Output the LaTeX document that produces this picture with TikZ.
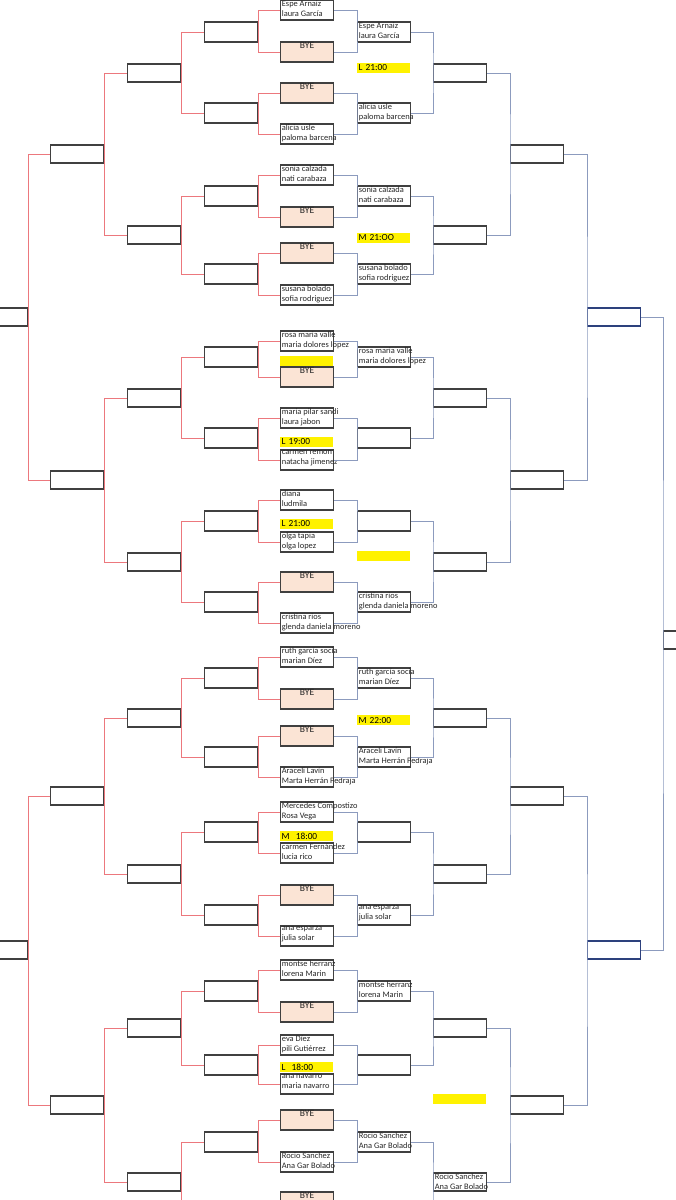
\documentclass[tikz,border=0pt]{standalone}
\usepackage{fontspec}
\setmainfont{Carlito}
\definecolor{byefill}{RGB}{251,228,213}
\definecolor{lred}{RGB}{236,120,125}
\definecolor{rblue}{RGB}{140,155,190}
\definecolor{dblue}{RGB}{45,65,125}
\tikzset{
 box/.style={draw=black!75, line width=0.95pt, rectangle, inner sep=0pt, minimum width=39.75pt, anchor=west, minimum height=15pt},
 sbox/.style={box, minimum height=13.5pt},
 txt/.style={font=\fontsize{6.3}{7.6}\selectfont, align=left, inner xsep=1.2pt, inner ysep=0.6pt, anchor=north west, text=black!85},
 byetxt/.style={font=\fontsize{7.2}{7.5}\selectfont, inner sep=0.8pt, anchor=north, text=black!85},
 ylw/.style={fill=yellow, inner sep=0pt, minimum height=7.5pt, text width=39.75pt, align=left, anchor=west, font=\fontsize{7}{7}\selectfont},
 lc/.style={draw=lred, line width=0.6pt},
 rc/.style={draw=rblue, line width=0.6pt}
}
\newcommand\leaf[3]{\node[box] (#1) at (280,#2) {}; \node[txt] (#1t) at (#1.north west) {#3};}
\newcommand\byeleaf[2]{\node[box,fill=byefill] (#1) at (280,#2) {}; \node[byetxt] (#1t) at (#1.north) {BYE};}
\newcommand\ftext[2]{\node[txt] (#1t) at (#1.north west) {#2};}
\newcommand\ybar[4]{\node[ylw] (#1) at (#2,#3) {\hspace{1pt}#4};}
\begin{document}
\begin{tikzpicture}[x=0.75pt,y=-0.75pt]
\useasboundingbox (0,0) rectangle (675,1200);
% D and F columns
\foreach \n/\y in {1/32,2/113,3/196,4/274,5/357,6/438,7/521,8/602,9/678,10/757,11/832,12/915,13/991,14/1065,15/1142,16/1222}{
 \node[box] (D\n) at (204,\y) {};
 \node[box] (F\n) at (357,\y) {};
}
\foreach \n/\y in {1/73,2/235,3/398,4/562,5/718,6/874,7/1028,8/1182}{
 \node[sbox] (C\n) at (127,\y) {};
 \node[sbox] (G\n) at (433,\y) {};
}
\foreach \n/\y in {1/154,2/480,3/796,4/1105}{
 \node[sbox] (B\n) at (50,\y) {};
 \node[sbox] (H\n) at (510,\y) {};
}
\foreach \n/\y in {1/317,2/950}{
 \node[sbox] (A\n) at (-26,\y) {};
 \node[sbox,draw=dblue] (I\n) at (587,\y) {};
}
\node[sbox] (J) at (663,640) {};
% leaves
\leaf{E1a}{10}{Espe Arnaiz\\laura García}
\byeleaf{E1b}{52}
\byeleaf{E2a}{93}
\leaf{E2b}{134}{alicia usle\\paloma barcena}
\leaf{E3a}{175}{sonia calzada\\nati carabaza}
\byeleaf{E3b}{217}
\byeleaf{E4a}{253}
\leaf{E4b}{295}{susana bolado\\sofia rodriguez}
\leaf{E5a}{341}{rosa maria valle\\maria dolores lopez}
\byeleaf{E5b}{377}
\leaf{E6a}{418}{maria pilar sandi\\laura jabon}
\leaf{E6b}{460}{carmen remon\\natacha jimenez}
\leaf{E7a}{500}{diana\\ludmila}
\leaf{E7b}{542}{olga tapia\\olga lopez}
\byeleaf{E8a}{582}
\leaf{E8b}{623}{cristina rios\\glenda daniela moreno}
\leaf{E9a}{657}{ruth garcía socia\\marian Díez}
\byeleaf{E9b}{699}
\byeleaf{E10a}{736}
\leaf{E10b}{777}{Araceli Lavín\\Marta Herrán Pedraja}
\leaf{E11a}{812}{Mercedes Compostizo\\Rosa Vega}
\leaf{E11b}{853}{carmen Fernández\\lucia rico}
\byeleaf{E12a}{895}
\leaf{E12b}{936}{ana esparza\\julia solar}
\leaf{E13a}{970}{montse herranz\\lorena Marin}
\byeleaf{E13b}{1012}
\leaf{E14a}{1045}{eva Díez\\pili Gutiérrez}
\leaf{E14b}{1084}{ana navarro\\maria navarro}
\byeleaf{E15a}{1120}
\leaf{E15b}{1162}{Rocio Sanchez\\Ana Gar Bolado}
\byeleaf{E16a}{1202}
\leaf{E16b}{1243}{}
% yellow labels
\ybar{y1}{280}{361}{}
\ybar{y2}{280}{442}{L 19:00}
\ybar{y3}{280}{524}{L 21:00}
\ybar{y4}{280}{836}{M\ \ 18:00}
\ybar{y5}{280}{1067}{L\ \ 18:00}
\ybar{y6}{357}{68}{L 21:00}
\ybar{y7}{357}{238}{M 21:OO}
\ybar{y8}{357}{556}{}
\ybar{y9}{357}{720}{M 22:00}
\ybar{y10}{433}{1099}{}
% F texts
\ftext{F1}{Espe Arnaiz\\laura García}
\ftext{F2}{alicia usle\\paloma barcena}
\ftext{F3}{sonia calzada\\nati carabaza}
\ftext{F4}{susana bolado\\sofia rodriguez}
\ftext{F5}{rosa maria valle\\maria dolores lopez}
\ftext{F8}{cristina rios\\glenda daniela moreno}
\ftext{F9}{ruth garcía socia\\marian Díez}
\ftext{F10}{Araceli Lavín\\Marta Herrán Pedraja}
\ftext{F12}{ana esparza\\julia solar}
\ftext{F13}{montse herranz\\lorena Marin}
\ftext{F15}{Rocio Sanchez\\Ana Gar Bolado}
\ftext{G8}{Rocio Sanchez\\Ana Gar Bolado}
% connectors
\foreach \i in {1,...,16}{
 \draw[lc] (E\i a.west) -| (D\i.east) |- (E\i b.west);
 \draw[rc] (E\i a.east) -| (F\i.west) |- (E\i b.east);
}
\foreach \i in {1,...,8}{
 \pgfmathtruncatemacro\a{2*\i-1}\pgfmathtruncatemacro\b{2*\i}
 \draw[lc] (D\a.west) -| (C\i.east) |- (D\b.west);
 \draw[rc] (F\a.east) -| (G\i.west) |- (F\b.east);
}
\foreach \i in {1,...,4}{
 \pgfmathtruncatemacro\a{2*\i-1}\pgfmathtruncatemacro\b{2*\i}
 \draw[lc] (C\a.west) -| (B\i.east) |- (C\b.west);
 \draw[rc] (G\a.east) -| (H\i.west) |- (G\b.east);
}
\foreach \i in {1,2}{
 \pgfmathtruncatemacro\a{2*\i-1}\pgfmathtruncatemacro\b{2*\i}
 \draw[lc] (B\a.west) -| (A\i.east) |- (B\b.west);
 \draw[rc] (H\a.east) -| (I\i.west) |- (H\b.east);
}
\draw[rc] (I1.east) -| (J.west) |- (I2.east);
\end{tikzpicture}
\end{document}
